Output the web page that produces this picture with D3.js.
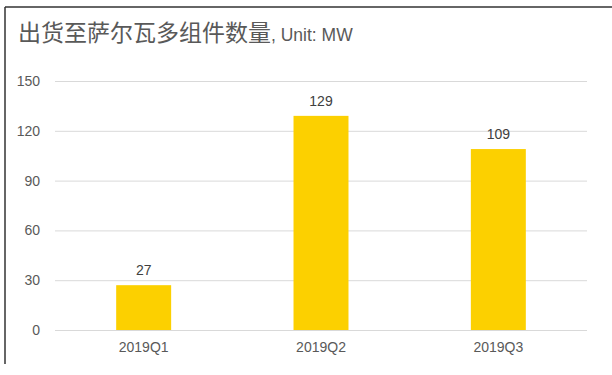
<!DOCTYPE html>
<html>
<head>
<meta charset="utf-8">
<script src="https://cdn.jsdelivr.net/npm/d3@7"></script>
<style>
  body { margin: 0; background: #fff; }
  svg { display: block; font-family: "Liberation Sans", Arial, sans-serif; }
</style>
</head>
<body>
<svg id="chart" width="612" height="375"></svg>
<script>
'use strict';
const categories = ['2019Q1', '2019Q2', '2019Q3'];
const values = [27, 129, 109];
const yTicks = [0, 30, 60, 90, 120, 150];

const width = 612, height = 375;
const margin = { top: 81, right: 25, bottom: 45, left: 55 };

const svg = d3.select('#chart');

// frame lines (top and left only)
svg.append('line')
    .attr('x1', 5).attr('x2', width).attr('y1', 7).attr('y2', 7)
    .attr('stroke', '#333').attr('stroke-width', 1.5);
svg.append('line')
    .attr('x1', 5).attr('x2', 5).attr('y1', 7).attr('y2', 364)
    .attr('stroke', '#333').attr('stroke-width', 1.5);

// title
const title = svg.append('text')
    .attr('x', 18).attr('y', 41)
    .attr('fill', '#595959');
title.append('tspan')
    .attr('font-family', '"Noto Sans CJK SC", sans-serif')
    .attr('font-size', 23)
    .text('出货至萨尔瓦多组件数量');
title.append('tspan')
    .attr('font-size', 17.5)
    .text(', Unit: MW');

const x = d3.scaleBand()
    .domain(categories)
    .range([margin.left, width - margin.right])
    .paddingInner(0.69)
    .paddingOuter(0.345);

const y = d3.scaleLinear()
    .domain([0, 150])
    .range([height - margin.bottom, margin.top]);

// gridlines + y labels
const yAxis = svg.append('g')
    .attr('transform', `translate(${margin.left},0)`)
    .call(d3.axisLeft(y).tickValues(yTicks)
        .tickSize(-(width - margin.left - margin.right))
        .tickPadding(15));
yAxis.select('.domain').remove();
yAxis.selectAll('line').attr('stroke', '#d9d9d9');
yAxis.selectAll('text')
    .attr('fill', '#595959')
    .attr('font-size', 14)
    .attr('font-family', '"Liberation Sans", Arial, sans-serif');

// bars
svg.append('g')
    .selectAll('rect')
    .data(values)
    .join('rect')
        .attr('x', (d, i) => x(categories[i]))
        .attr('y', d => y(d))
        .attr('width', x.bandwidth())
        .attr('height', d => y(0) - y(d))
        .attr('fill', '#fcd000');

// value labels
svg.append('g')
    .selectAll('text')
    .data(values)
    .join('text')
        .attr('x', (d, i) => x(categories[i]) + x.bandwidth() / 2)
        .attr('y', d => y(d) - 10)
        .attr('text-anchor', 'middle')
        .attr('fill', '#404040')
        .attr('font-size', 14)
        .text(d => d);

// x labels
const xAxis = svg.append('g')
    .attr('transform', `translate(0,${height - margin.bottom})`)
    .call(d3.axisBottom(x).tickSize(0).tickPadding(12));
xAxis.select('.domain').remove();
xAxis.selectAll('text')
    .attr('fill', '#595959')
    .attr('font-size', 14)
    .attr('font-family', '"Liberation Sans", Arial, sans-serif');
</script>
</body>
</html>
